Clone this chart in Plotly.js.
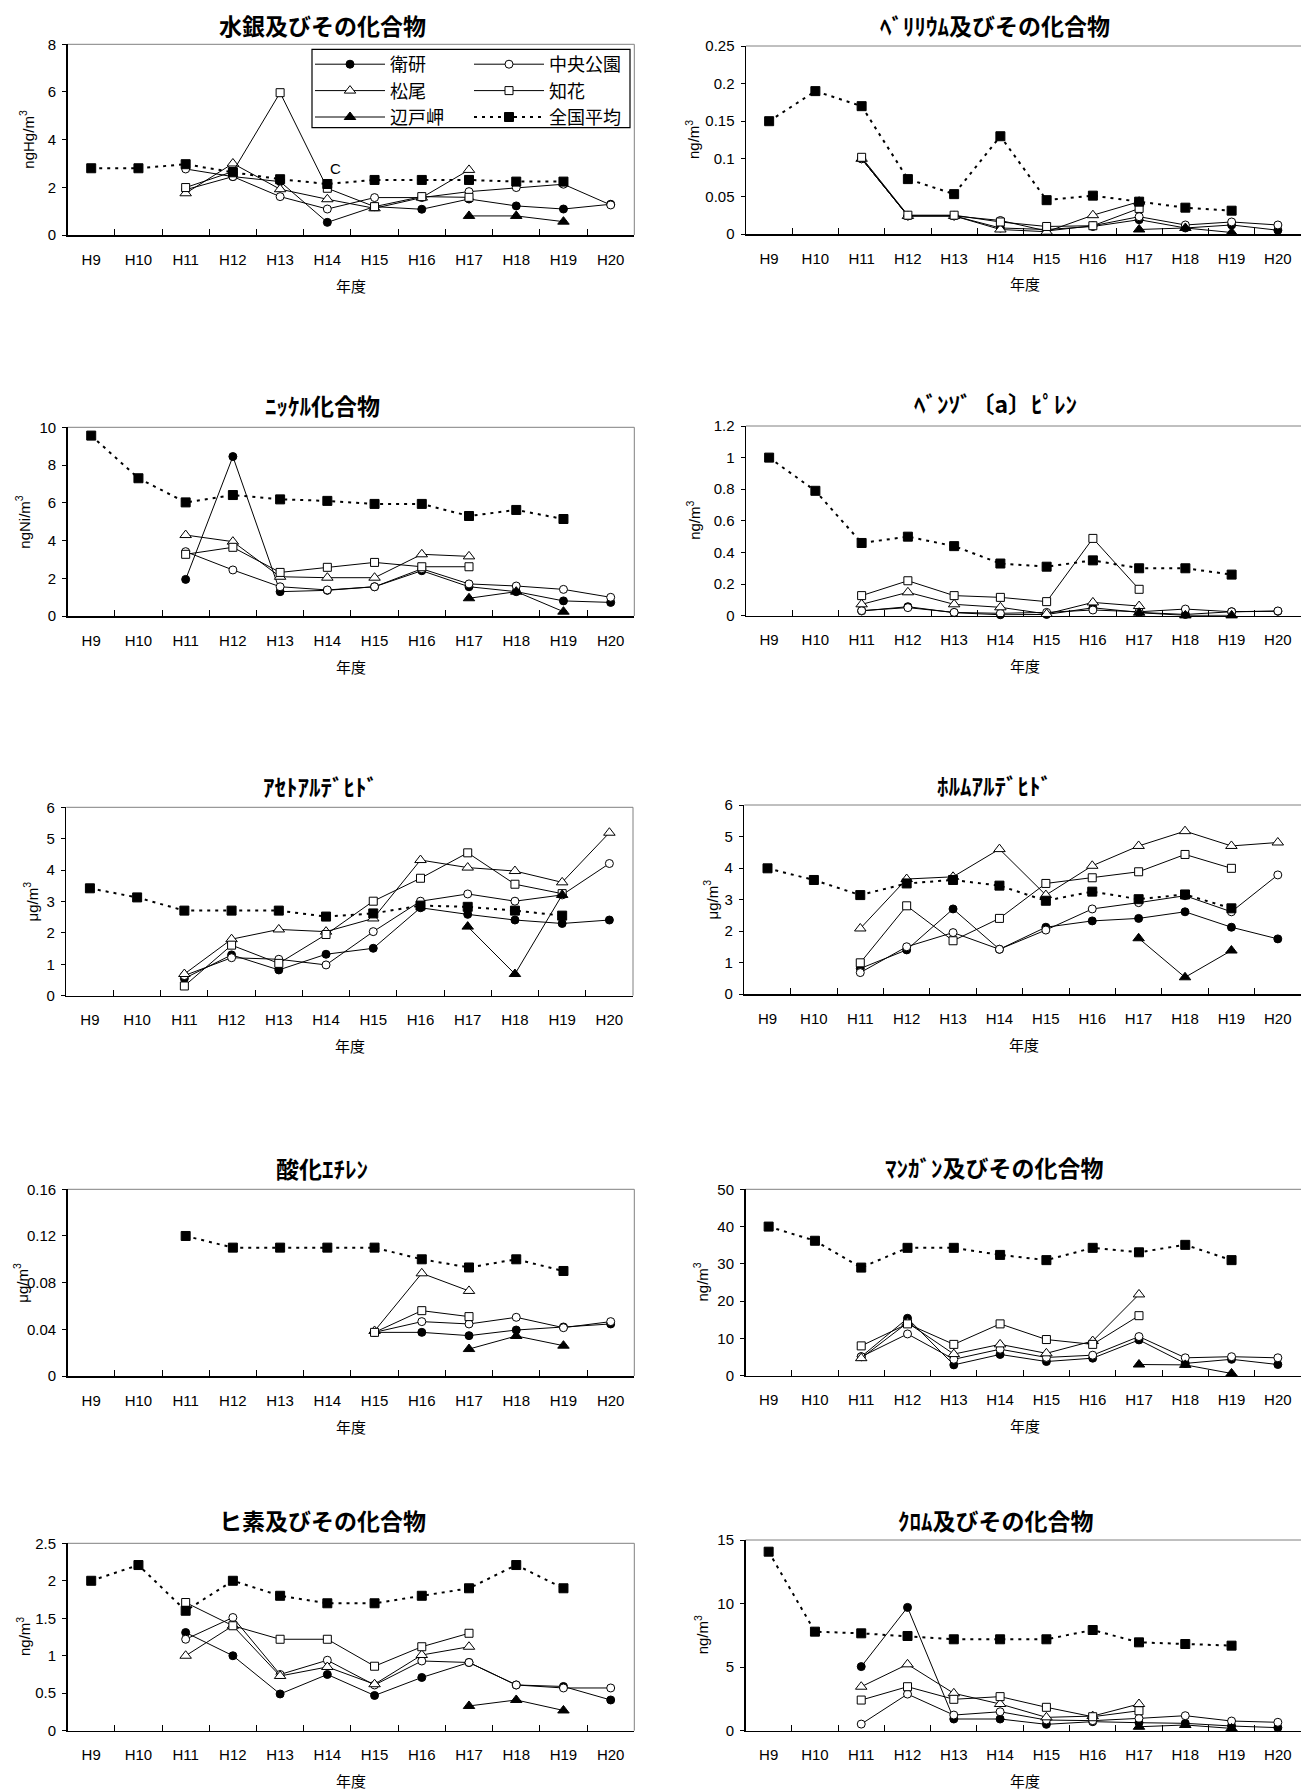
<!DOCTYPE html>
<html><head><meta charset="utf-8">
<script src="https://cdn.plot.ly/plotly-3.0.1.min.js"></script>
<style>html,body{margin:0;padding:0;background:#fff;overflow:hidden}</style>
</head><body>
<div id="chart" style="width:1301px;height:1792px"></div>
<script>
// ---------- DATA ----------
const years = ['H9','H10','H11','H12','H13','H14','H15','H16','H17','H18','H19','H20'];
const stationNames = ['衛研','中央公園','松尾','知花','辺戸岬','全国平均'];
const chartTitles = ['水銀及びその化合物','ﾍﾞﾘﾘｳﾑ及びその化合物','ﾆｯｹﾙ化合物','ﾍﾞﾝｿﾞ〔a〕ﾋﾟﾚﾝ','ｱｾﾄｱﾙﾃﾞﾋﾄﾞ','ﾎﾙﾑｱﾙﾃﾞﾋﾄﾞ','酸化ｴﾁﾚﾝ','ﾏﾝｶﾞﾝ及びその化合物','ヒ素及びその化合物','ｸﾛﾑ及びその化合物'];
const unitLabels = ['ngHg/m<sup>3</sup>','ng/m<sup>3</sup>','ngNi/m<sup>3</sup>','ng/m<sup>3</sup>','μg/m<sup>3</sup>','μg/m<sup>3</sup>','μg/m<sup>3</sup>','ng/m<sup>3</sup>','ng/m<sup>3</sup>','ng/m<sup>3</sup>'];
const xTitle = '年度';
const yMax = [8, 0.25, 10, 1.2, 6, 6, 0.16, 50, 2.5, 15];
const yStep = [2, 0.05, 2, 0.2, 1, 1, 0.04, 10, 0.5, 5];
const N = null;
// rows in station order: 衛研, 中央公園, 松尾, 知花, 辺戸岬, 全国平均
const mercury = [
  [N,N,1.9,2.45,2.24,0.53,1.19,1.08,1.51,1.22,1.09,1.29],
  [N,N,2.77,2.45,1.61,1.09,1.57,1.57,1.82,1.99,2.13,1.26],
  [N,N,1.75,3.0,1.92,1.5,1.12,1.57,2.73,N,N,N],
  [N,N,1.99,2.66,5.97,1.96,1.19,1.61,1.58,N,N,N],
  [N,N,N,N,N,N,N,N,0.8,0.8,0.56,N],
  [2.8,2.8,2.97,2.63,2.34,2.14,2.31,2.31,2.31,2.24,2.24,N]
];
const beryllium = [
  [N,N,0.1,0.024,0.024,0.008,0.006,0.01,0.019,0.008,0.012,0.005],
  [N,N,0.1,0.024,0.024,0.018,0.004,0.011,0.023,0.012,0.016,0.012],
  [N,N,0.1,0.024,0.024,0.006,0.003,0.025,0.043,N,N,N],
  [N,N,0.102,0.025,0.025,0.016,0.01,0.011,0.034,N,N,N],
  [N,N,N,N,N,N,N,N,0.006,0.008,0.002,N],
  [0.15,0.19,0.17,0.073,0.053,0.13,0.045,0.051,0.043,0.035,0.031,N]
];
const nickel = [
  [N,N,1.94,8.45,1.29,1.36,1.55,2.4,1.55,1.29,0.8,0.72],
  [N,N,3.41,2.44,1.55,1.38,1.55,2.5,1.7,1.59,1.41,0.99],
  [N,N,4.29,3.94,2.08,2.03,2.03,3.27,3.16,N,N,N],
  [N,N,3.27,3.64,2.31,2.58,2.84,2.61,2.61,N,N,N],
  [N,N,N,N,N,N,N,N,0.94,1.29,0.23,N],
  [9.56,7.3,6.02,6.41,6.18,6.1,5.94,5.94,5.3,5.62,5.14,N]
];
const benzopyrene = [
  [N,N,0.03,0.057,0.019,0.006,0.008,0.05,0.021,0.008,0.025,0.028],
  [N,N,0.032,0.051,0.021,0.015,0.021,0.036,0.025,0.042,0.025,0.03],
  [N,N,0.072,0.148,0.072,0.053,0.011,0.084,0.061,N,N,N],
  [N,N,0.127,0.221,0.127,0.116,0.089,0.489,0.167,N,N,N],
  [N,N,N,N,N,N,N,N,0.019,0.002,0.002,N],
  [1.0,0.79,0.46,0.5,0.44,0.33,0.31,0.35,0.3,0.3,0.26,N]
];
const acetaldehyde = [
  [N,N,0.55,1.3,0.82,1.32,1.51,2.8,2.59,2.41,2.3,2.41],
  [N,N,0.64,1.21,1.16,0.98,2.04,3.01,3.24,3.01,3.21,4.21],
  [N,N,0.69,1.8,2.11,2.04,2.46,4.32,4.08,3.97,3.61,5.19],
  [N,N,0.31,1.61,1.03,1.95,3.01,3.74,4.55,3.55,3.25,N],
  [N,N,N,N,N,N,N,N,2.2,0.69,3.21,N],
  [3.42,3.13,2.71,2.71,2.71,2.52,2.62,2.87,2.83,2.71,2.55,N]
];
const formaldehyde = [
  [N,N,0.81,1.4,2.7,1.42,2.12,2.32,2.4,2.61,2.12,1.75],
  [N,N,0.68,1.5,1.95,1.42,2.03,2.7,2.9,3.12,2.61,3.78],
  [N,N,2.08,3.65,3.72,4.6,3.14,4.07,4.7,5.17,4.7,4.81],
  [N,N,0.99,2.8,1.69,2.4,3.51,3.69,3.88,4.43,3.99,N],
  [N,N,N,N,N,N,N,N,1.77,0.53,1.38,N],
  [3.99,3.62,3.14,3.51,3.62,3.44,2.96,3.25,3.01,3.16,2.72,N]
];
const ethyleneOxide = [
  [N,N,N,N,N,N,0.0374,0.0374,0.0346,0.0394,0.042,0.0446],
  [N,N,N,N,N,N,0.0374,0.0466,0.0446,0.0503,0.0414,0.0466],
  [N,N,N,N,N,N,0.0386,0.088,0.0729,N,N,N],
  [N,N,N,N,N,N,0.0374,0.056,0.0509,N,N,N],
  [N,N,N,N,N,N,N,N,0.0231,0.0343,0.026,N],
  [N,N,0.12,0.11,0.11,0.11,0.11,0.1,0.093,0.1,0.09,N]
];
const manganese = [
  [N,N,5.1,15.4,2.9,5.7,3.8,4.7,9.6,3.3,4.4,3.0],
  [N,N,5.1,11.2,4.4,7.1,4.9,5.5,10.5,4.8,5.1,4.8],
  [N,N,4.7,14.2,5.8,8.4,6.0,9.3,21.8,N,N,N],
  [N,N,8.0,13.9,8.4,13.9,9.7,8.4,16.1,N,N,N],
  [N,N,N,N,N,N,N,N,3.0,2.9,0.6,N],
  [40,36.2,29,34.3,34.3,32.4,31,34.3,33.1,35.1,31,N]
];
const arsenic = [
  [N,N,1.31,1.0,0.49,0.75,0.47,0.71,0.91,0.61,0.59,0.41],
  [N,N,1.22,1.51,0.75,0.94,0.61,0.93,0.91,0.61,0.57,0.57],
  [N,N,1.0,1.4,0.73,0.85,0.62,1.01,1.12,N,N,N],
  [N,N,1.71,1.4,1.22,1.22,0.86,1.12,1.3,N,N,N],
  [N,N,N,N,N,N,N,N,0.33,0.41,0.27,N],
  [2.0,2.21,1.6,2.0,1.8,1.7,1.7,1.8,1.9,2.21,1.9,N]
];
const chromium = [
  [N,N,5.04,9.7,0.92,0.92,0.5,0.71,0.63,0.58,0.37,0.24],
  [N,N,0.52,2.88,1.23,1.49,0.84,0.79,0.97,1.18,0.76,0.66],
  [N,N,3.46,5.22,2.94,2.1,1.05,1.15,2.1,N,N,N],
  [N,N,2.41,3.46,2.47,2.68,1.84,1.1,1.57,N,N,N],
  [N,N,N,N,N,N,N,N,0.31,0.45,0.18,N],
  [14.08,7.79,7.66,7.45,7.19,7.19,7.19,7.92,6.95,6.82,6.69,N]
];
const chartValues = [mercury, beryllium, nickel, benzopyrene, acetaldehyde, formaldehyde, ethyleneOxide, manganese, arsenic, chromium];
const strayLabel = 'C';

// ---------- STYLE / LAYOUT ----------
const W = 1301, H = 1792;
const JP = 'Noto Sans CJK JP, sans-serif';
const TICKF = 'Liberation Sans, Arial, sans-serif';
const boxes = [
  {l:67.6, r:634.3, t:44.3, b:235},
  {l:746, r:1301, t:46, b:234},
  {l:67.6, r:634.3, t:427.3, b:616},
  {l:746, r:1301, t:426, b:615.7},
  {l:66.3, r:633, t:807.3, b:995.7},
  {l:744.3, r:1301, t:805, b:994},
  {l:67.6, r:634.3, t:1189.3, b:1376},
  {l:745.5, r:1301, t:1189.3, b:1375.7},
  {l:67.6, r:634.3, t:1543.3, b:1730.7},
  {l:745.5, r:1301, t:1540, b:1730.7}
];
const titlePos = [[322,25],[995,25],[322,405],[995,403],[320,786],[994,785],[322,1168],[994,1167],[322,1520],[996,1520]];
const yTitleX = [27,692,23,694,31,711,21,701,23,701];

const markerStyles = [
  {symbol:'circle', size:8, color:'#000', line:{color:'#000', width:1}},
  {symbol:'circle', size:8, color:'#fff', line:{color:'#000', width:1}},
  {symbol:'triangle-up', size:10, color:'#fff', line:{color:'#000', width:1}},
  {symbol:'square', size:8, color:'#fff', line:{color:'#000', width:1}},
  {symbol:'triangle-up', size:10, color:'#000', line:{color:'#000', width:1}},
  {symbol:'square', size:9, color:'#000', line:{color:'#000', width:1}}
];
const lineStyles = [
  {color:'#000', width:1}, {color:'#000', width:1}, {color:'#000', width:1},
  {color:'#000', width:1}, {color:'#000', width:1},
  {color:'#000', width:2, dash:'3px,5px'}
];

const traces = [];
const legendFont = {family: JP, size: 18, color: '#000'};
const layout = {
  width: W, height: H,
  margin: {l:0, r:0, t:0, b:0},
  paper_bgcolor: '#fff', plot_bgcolor: '#fff',
  showlegend: true,
  font: {family: JP, color: '#000'},
  annotations: [], shapes: [],
  legend: {x:310/W, y:1-46/H, xanchor:'left', yanchor:'top', bgcolor:'rgba(0,0,0,0)',
           borderwidth:0, font:legendFont, tracegroupgap:0, itemwidth:70},
  legend2: {x:469/W, y:1-46/H, xanchor:'left', yanchor:'top', bgcolor:'rgba(0,0,0,0)',
           borderwidth:0, font:legendFont, tracegroupgap:0, itemwidth:70}
};

chartValues.forEach((vals, k) => {
  const s = k === 0 ? '' : String(k + 1);
  const bx = boxes[k];
  const isRight = k % 2 === 1;
  vals.forEach((row, i) => {
    traces.push({
      type: 'scatter', mode: 'lines+markers',
      x: years, y: row, name: stationNames[i],
      xaxis: 'x' + s, yaxis: 'y' + s,
      line: lineStyles[i], marker: markerStyles[i],
      connectgaps: false, cliponaxis: false,
      legendgroup: stationNames[i],
      showlegend: k === 0,
      legend: i % 2 === 0 ? 'legend' : 'legend2',
      hoverinfo: 'x+y+name'
    });
  });
  layout['xaxis' + s] = {
    domain: [bx.l / W, bx.r / W], anchor: 'y' + s,
    type: 'category', categoryorder: 'array', categoryarray: years,
    range: [-0.5, 11.5], tickson: 'boundaries',
    ticks: 'inside', ticklen: 6, tickwidth: 1, tickcolor: '#000',
    showline: true, linecolor: '#000', linewidth: 1.5,
    showgrid: false, zeroline: false,
    tickfont: {family: TICKF, size: 15, color: '#000'},
    ticklabelstandoff: 10, fixedrange: true
  };
  layout['yaxis' + s] = {
    domain: [1 - bx.b / H, 1 - bx.t / H], anchor: 'x' + s,
    range: [0, yMax[k]], tick0: 0, dtick: yStep[k],
    ticks: 'outside', ticklen: 4, tickwidth: 1, tickcolor: '#000',
    showline: true, linecolor: '#000', linewidth: 1.5,
    showgrid: false, zeroline: false,
    tickfont: {family: TICKF, size: 15, color: '#000'},
    ticklabelstandoff: 3, fixedrange: true
  };
  // gray frame: top and right edges
  const fullRight = isRight ? 1304 : bx.r;
  layout.shapes.push({type:'line', xref:'paper', yref:'paper', x0: bx.l / W, x1: Math.min(fullRight, W) / W,
    y0: 1 - bx.t / H, y1: 1 - bx.t / H, line: {color:'#808080', width:1}, layer:'below'});
  if (!isRight) {
    layout.shapes.push({type:'line', xref:'paper', yref:'paper', x0: bx.r / W, x1: bx.r / W,
      y0: 1 - bx.b / H, y1: 1 - bx.t / H, line: {color:'#808080', width:1}, layer:'below'});
  }
  // chart title
  layout.annotations.push({text: chartTitles[k], xref:'paper', yref:'paper',
    x: titlePos[k][0] / W, y: 1 - titlePos[k][1] / H, xanchor:'center', yanchor:'middle',
    showarrow:false, font:{family: JP, size: 23, color:'#000', weight:'bold'}});
  // y unit title
  layout.annotations.push({text: unitLabels[k],
    xref:'paper', yref:'paper', textangle: -90,
    x: yTitleX[k] / W, y: 1 - ((bx.t + bx.b) / 2) / H, xanchor:'center', yanchor:'middle',
    showarrow:false, font:{family: TICKF, size: 15, color:'#000'}});
  // x title
  layout.annotations.push({text: xTitle, xref:'paper', yref:'paper',
    x: ((bx.l + fullRight) / 2) / W, y: 1 - (bx.b + 50) / H, xanchor:'center', yanchor:'middle',
    showarrow:false, font:{family: JP, size: 15, color:'#000'}});
});

// stray "C" label in the mercury chart
layout.annotations.push({text: strayLabel, xref:'paper', yref:'paper', x: 335 / W, y: 1 - 169 / H,
  xanchor:'center', yanchor:'middle', showarrow:false, font:{family: TICKF, size: 15, color:'#000'}});

// legend frame
layout.shapes.push({type:'rect', xref:'paper', yref:'paper', x0: 312 / W, x1: 630 / W,
  y0: 1 - 127.7 / H, y1: 1 - 49.3 / H, line:{color:'#000', width:1.2}, fillcolor:'#fff', layer:'above'});

Plotly.newPlot('chart', traces, layout, {staticPlot: true, displayModeBar: false});
</script>
</body></html>
